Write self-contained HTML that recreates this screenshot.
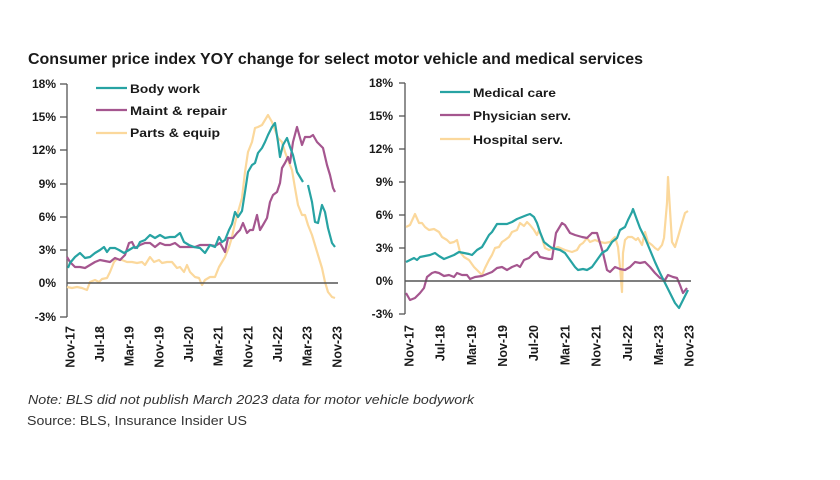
<!DOCTYPE html>
<html><head><meta charset="utf-8"><style>
html,body{margin:0;padding:0;background:#fff;}
svg{display:block;}
text{font-family:"Liberation Sans",sans-serif;fill:#1a1a1a;}
.t{font-weight:bold;font-size:12px;}
.x{font-weight:bold;font-size:12.5px;}
.l{font-weight:bold;font-size:12px;}
</style></head><body>
<svg width="840" height="480" viewBox="0 0 840 480" xmlns="http://www.w3.org/2000/svg">
<rect width="840" height="480" fill="#fff"/>
<text x="28" y="64" style="font-weight:bold;font-size:15.5px" textLength="615" lengthAdjust="spacingAndGlyphs">Consumer price index YOY change for select motor vehicle and medical services</text>

<!-- LEFT CHART -->
<g stroke="#555" stroke-width="1.3" fill="none">
<line x1="67" y1="84" x2="67" y2="317"/>
<line x1="60" y1="84" x2="67" y2="84"/>
<line x1="60" y1="117" x2="67" y2="117"/>
<line x1="60" y1="150" x2="67" y2="150"/>
<line x1="60" y1="184" x2="67" y2="184"/>
<line x1="60" y1="217" x2="67" y2="217"/>
<line x1="60" y1="250" x2="67" y2="250"/>
<line x1="60" y1="317" x2="67" y2="317"/>
</g>
<g text-anchor="end">
<text x="56" y="88" class="t">18%</text>
<text x="56" y="121" class="t">15%</text>
<text x="56" y="154" class="t">12%</text>
<text x="56" y="188" class="t">9%</text>
<text x="56" y="221" class="t">6%</text>
<text x="56" y="254" class="t">3%</text>
<text x="56" y="287" class="t">0%</text>
<text x="56" y="321" class="t">-3%</text>
</g>
<g fill="none" stroke-width="2.2" stroke-linejoin="round">
<polyline stroke="#fbd89c" points="67,287 72,288 77,287 82,288 87,290 90,282 95,280 99,282 102,279 107,278 110,272 114,262 117,259 122,260 127,262 132,262 137,263 142,262 145,265 150,257 154,262 159,260 162,263 167,262 172,262 177,268 180,267 184,272 187,265 190,272 195,277 199,278 202,285 205,280 210,277 215,277 219,267 222,262 225,257 229,247 232,237 235,223 238,212 242,198 245,172 248,152 252,142 255,128 258,127 262,125 265,120 268,115 272,122 275,130 278,138 282,142 285,152 288,160 292,170 295,188 298,205 302,215 305,215 308,225 312,235 315,245 318,255 322,268 325,282 328,292 332,297 335,298"/>
<polyline stroke="#a5568f" points="67,257 70,262 75,267 80,267 85,268 90,265 95,262 100,260 105,261 110,262 115,258 120,260 125,255 129,243 132,242 135,248 140,245 145,243 150,243 155,247 160,243 165,245 170,245 175,243 180,247 185,247 190,247 195,247 200,245 205,245 210,245 215,246 220,243 225,252 228,238 233,238 237,233 240,230 243,223 247,233 250,230 253,230 257,215 260,230 263,225 267,218 270,202 273,195 277,192 280,183 282,168 285,163 288,157 290,163 293,142 297,127 302,145 305,137 310,137 313,135 317,142 320,145 323,148 327,165 330,175 333,188 335,192"/>
<polyline stroke="#27a3a3" points="68,268 70,263 75,257 80,253 85,258 90,257 95,253 100,250 104,247 107,252 110,248 115,248 119,250 124,253 129,250 134,247 137,248 140,242 145,240 150,235 155,238 160,235 165,238 170,237 175,237 180,233 184,242 189,245 194,247 200,248 205,253 210,245 215,247 219,237 222,242 225,240 229,230 232,224 235,212 238,217 242,211 245,192 248,172 252,165 255,163 258,153 262,148 265,142 268,135 272,127 275,123 278,142 280,157 283,145 287,138 290,147 293,155 297,172 300,177 303,182"/>
<polyline stroke="#27a3a3" points="308,185 312,202 315,222 318,223 322,205 325,212 328,228 332,243 335,247"/>
</g>
<line x1="67" y1="283" x2="338" y2="283" stroke="#555" stroke-width="1.5"/>
<g stroke-width="2.2">
<line x1="96" y1="88" x2="127" y2="88" stroke="#27a3a3"/>
<line x1="96" y1="110" x2="127" y2="110" stroke="#a5568f"/>
<line x1="96" y1="133" x2="127" y2="133" stroke="#fbd89c"/>
</g>
<text x="130" y="93" class="l" textLength="70" lengthAdjust="spacingAndGlyphs">Body work</text>
<text x="130" y="115" class="l" textLength="97" lengthAdjust="spacingAndGlyphs">Maint &amp; repair</text>
<text x="130" y="137" class="l" textLength="90" lengthAdjust="spacingAndGlyphs">Parts &amp; equip</text>
<g text-anchor="end">
<text class="x" transform="translate(74.5,326) rotate(-90)">Nov-17</text>
<text class="x" transform="translate(104,326) rotate(-90)">Jul-18</text>
<text class="x" transform="translate(133.6,326) rotate(-90)">Mar-19</text>
<text class="x" transform="translate(163.3,326) rotate(-90)">Nov-19</text>
<text class="x" transform="translate(193,326) rotate(-90)">Jul-20</text>
<text class="x" transform="translate(222.6,326) rotate(-90)">Mar-21</text>
<text class="x" transform="translate(252.3,326) rotate(-90)">Nov-21</text>
<text class="x" transform="translate(282,326) rotate(-90)">Jul-22</text>
<text class="x" transform="translate(311.6,326) rotate(-90)">Mar-23</text>
<text class="x" transform="translate(341.3,326) rotate(-90)">Nov-23</text>
</g>

<!-- RIGHT CHART -->
<g stroke="#555" stroke-width="1.3" fill="none">
<line x1="405" y1="83" x2="405" y2="314"/>
<line x1="399" y1="83" x2="405" y2="83"/>
<line x1="399" y1="116" x2="405" y2="116"/>
<line x1="399" y1="149" x2="405" y2="149"/>
<line x1="399" y1="182" x2="405" y2="182"/>
<line x1="399" y1="215" x2="405" y2="215"/>
<line x1="399" y1="248" x2="405" y2="248"/>
<line x1="399" y1="314" x2="405" y2="314"/>
</g>
<g text-anchor="end">
<text x="393" y="87" class="t">18%</text>
<text x="393" y="120" class="t">15%</text>
<text x="393" y="153" class="t">12%</text>
<text x="393" y="186" class="t">9%</text>
<text x="393" y="219" class="t">6%</text>
<text x="393" y="252" class="t">3%</text>
<text x="393" y="285" class="t">0%</text>
<text x="393" y="318" class="t">-3%</text>
</g>
<g fill="none" stroke-width="2.2" stroke-linejoin="round">
<polyline stroke="#fbd89c" points="406,227 410,225 415,214 419,223 422,223 425,227 429,230 434,229 439,232 442,237 447,240 450,243 454,242 457,240 460,252 464,257 469,260 474,267 479,272 482,275 485,268 489,260 492,255 495,248 499,247 502,242 505,240 509,237 512,232 517,230 520,223 524,226 527,222 530,225 534,230 537,235 539,230 542,238 545,248 549,250 552,249 558,247 565,250 572,252 577,250 580,245 583,243 587,238 590,242 595,240 600,242 605,243 610,242 615,237 618,247 620,267 622,292 623,253 625,240 628,237 632,237 636,240 638,238 642,245 645,232 648,242 652,245 655,248 658,250 662,245 664,238 667,203 668,177 670,210 672,242 675,247 678,237 682,223 685,213 688,211"/>
<polyline stroke="#a5568f" points="406,293 410,300 415,298 420,293 424,288 427,277 432,273 435,272 439,273 444,276 449,275 454,277 457,273 462,275 467,275 470,279 475,277 482,276 487,274 492,272 497,268 502,267 507,270 512,267 517,265 520,267 524,260 529,258 534,253 537,252 540,257 544,258 549,259 552,259 556,233 562,223 565,225 570,233 575,235 582,237 587,238 592,233 597,233 600,243 603,253 607,270 610,272 615,267 620,269 625,270 630,267 635,262 640,263 645,262 650,267 655,273 660,278 665,280 668,275 673,277 677,278 680,285 683,293 687,288"/>
<polyline stroke="#27a3a3" points="406,262 410,260 414,258 417,260 420,257 425,256 430,255 435,253 439,256 444,259 449,257 454,255 459,252 464,253 469,254 472,255 477,250 482,247 485,242 489,235 492,232 497,224 502,224 507,224 512,222 517,219 522,217 527,215 530,214 534,217 537,223 540,232 544,242 549,246 552,248 556,249 560,250 565,253 570,260 575,267 578,270 583,269 587,270 592,267 597,260 602,253 607,250 612,242 617,238 620,230 625,227 628,220 632,212 633,209 637,220 640,228 645,238 650,250 655,262 660,273 665,283 670,293 675,303 679,308 683,300 688,290"/>
</g>
<line x1="405" y1="281" x2="691" y2="281" stroke="#555" stroke-width="1.5"/>
<g stroke-width="2.2">
<line x1="440" y1="92" x2="470" y2="92" stroke="#27a3a3"/>
<line x1="440" y1="115" x2="470" y2="115" stroke="#a5568f"/>
<line x1="440" y1="139" x2="470" y2="139" stroke="#fbd89c"/>
</g>
<text x="473" y="97" class="l" textLength="83" lengthAdjust="spacingAndGlyphs">Medical care</text>
<text x="473" y="120" class="l" textLength="98" lengthAdjust="spacingAndGlyphs">Physician serv.</text>
<text x="473" y="144" class="l" textLength="90" lengthAdjust="spacingAndGlyphs">Hospital serv.</text>
<g text-anchor="end">
<text class="x" transform="translate(413.5,325) rotate(-90)">Nov-17</text>
<text class="x" transform="translate(444.6,325) rotate(-90)">Jul-18</text>
<text class="x" transform="translate(475.8,325) rotate(-90)">Mar-19</text>
<text class="x" transform="translate(507,325) rotate(-90)">Nov-19</text>
<text class="x" transform="translate(538.2,325) rotate(-90)">Jul-20</text>
<text class="x" transform="translate(569.4,325) rotate(-90)">Mar-21</text>
<text class="x" transform="translate(600.6,325) rotate(-90)">Nov-21</text>
<text class="x" transform="translate(631.8,325) rotate(-90)">Jul-22</text>
<text class="x" transform="translate(663,325) rotate(-90)">Mar-23</text>
<text class="x" transform="translate(693.3,325) rotate(-90)">Nov-23</text>
</g>

<text x="28" y="404" style="font-style:italic;font-size:12.5px;fill:#333" textLength="446" lengthAdjust="spacingAndGlyphs">Note: BLS did not publish March 2023 data for motor vehicle bodywork</text>
<text x="27" y="425" style="font-size:12.5px;fill:#333" textLength="220" lengthAdjust="spacingAndGlyphs">Source: BLS, Insurance Insider US</text>
</svg>
</body></html>
